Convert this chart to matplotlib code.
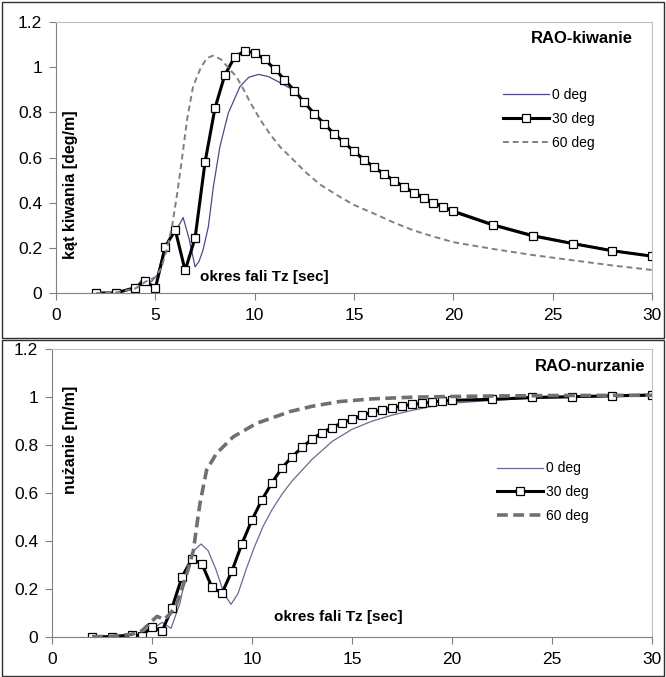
import numpy as np
import matplotlib
matplotlib.use('Agg')
import matplotlib.pyplot as plt
from matplotlib.patches import Rectangle

plt.rcParams['font.family'] = ['Liberation Sans', 'DejaVu Sans']

# --- RAO-kiwanie (pitch) ---
x_30 = [2, 3, 4, 4.5, 5, 5.5, 6, 6.5, 7, 7.5, 8, 8.5, 9, 9.5, 10, 10.5, 11, 11.5, 12, 12.5,
        13, 13.5, 14, 14.5, 15, 15.5, 16, 16.5, 17, 17.5, 18, 18.5, 19, 19.5, 20, 22, 24, 26, 28, 30]
pitch_30 = [0, 0, 0.024, 0.055, 0.02, 0.205, 0.28, 0.10, 0.243, 0.578, 0.818, 0.966, 1.046, 1.071,
            1.064, 1.034, 0.993, 0.945, 0.896, 0.844, 0.794, 0.750, 0.704, 0.667, 0.627, 0.590,
            0.557, 0.527, 0.498, 0.471, 0.444, 0.421, 0.400, 0.379, 0.361, 0.301, 0.253, 0.219,
            0.187, 0.163]

x_p0 = [2, 3, 4, 4.4, 4.8, 5.1, 5.4, 5.7, 6.0, 6.4, 6.7, 7.0, 7.2, 7.4, 7.67, 7.92, 8.25, 8.67,
        9.26, 9.7, 10.2, 10.7, 11.2, 11.94, 12.5, 13, 14, 15, 16, 17, 18, 19, 20, 22, 24, 26, 28, 30]
pitch_0 = [0, 0, 0.02, 0.07, 0.05, 0.08, 0.18, 0.23, 0.27, 0.334, 0.24, 0.116, 0.14, 0.19, 0.294,
           0.47, 0.648, 0.796, 0.914, 0.955, 0.968, 0.958, 0.935, 0.899, 0.847, 0.798, 0.708,
           0.632, 0.562, 0.503, 0.45, 0.405, 0.367, 0.306, 0.258, 0.222, 0.19, 0.165]

x_p60 = [2, 3, 4, 4.5, 5, 5.3, 5.6, 5.85, 6.1, 6.35, 6.6, 6.9, 7.3, 7.6, 7.9, 8.3, 8.7, 9.1, 9.45,
         9.8, 10.3, 10.8, 11.3, 12, 12.6, 13.3, 14.3, 15, 16, 17, 18, 19, 20, 22, 24, 26, 28, 30]
pitch_60 = [0, 0.002, 0.02, 0.05, 0.07, 0.11, 0.2, 0.3, 0.44, 0.6, 0.77, 0.915, 1.0, 1.04, 1.051,
            1.035, 0.995, 0.955, 0.9, 0.84, 0.765, 0.7, 0.645, 0.585, 0.532, 0.48, 0.425, 0.39,
            0.352, 0.312, 0.277, 0.25, 0.225, 0.195, 0.168, 0.145, 0.122, 0.102]

# --- RAO-nurzanie (heave) ---
heave_30 = [0, 0, 0.008, 0.004, 0.042, 0.022, 0.12, 0.25, 0.325, 0.303, 0.206, 0.182, 0.275, 0.389,
            0.488, 0.572, 0.643, 0.705, 0.751, 0.79, 0.825, 0.852, 0.873, 0.893, 0.908, 0.924,
            0.938, 0.946, 0.956, 0.963, 0.97, 0.974, 0.98, 0.984, 0.987, 0.991, 0.999, 1.002,
            1.006, 1.009]

x_h0 = [2, 3, 4, 4.5, 5, 5.5, 5.95, 6.4, 6.75, 7.1, 7.45, 7.8, 8.2, 8.6, 8.95, 9.3, 9.7, 10.1,
        10.55, 11, 11.5, 12, 12.5, 13, 14, 15, 16, 17, 18, 19, 20, 22, 24, 26, 28, 30]
heave_0 = [0, 0, 0.005, 0.01, 0.03, 0.06, 0.035, 0.14, 0.28, 0.36, 0.387, 0.36, 0.28, 0.18, 0.135,
           0.18, 0.28, 0.37, 0.46, 0.53, 0.595, 0.65, 0.695, 0.74, 0.815, 0.866, 0.9, 0.925,
           0.945, 0.962, 0.975, 0.987, 0.995, 0.999, 1.002, 1.005]

x_h60 = [2, 3, 4, 4.5, 5, 5.25, 5.6, 5.9, 6.2, 6.5, 6.8, 7.07, 7.25, 7.4, 7.73, 8.23, 9.07, 10.23,
         11.9, 13, 14.4, 16, 18, 20, 22, 25, 30]
heave_60 = [0, 0.002, 0.01, 0.025, 0.065, 0.085, 0.072, 0.095, 0.13, 0.2, 0.28, 0.36, 0.47, 0.557,
            0.696, 0.766, 0.835, 0.891, 0.94, 0.962, 0.982, 0.993, 1.0, 1.003, 1.005, 1.007, 1.008]

labels = ['0 deg', '30 deg', '60 deg']
xticks = [0, 5, 10, 15, 20, 25, 30]
yticks = [0, 0.2, 0.4, 0.6, 0.8, 1, 1.2]
ytick_labels = ['0', '0.2', '0.4', '0.6', '0.8', '1', '1.2']

fig = plt.figure(figsize=(6.66, 6.77), dpi=100)
fig.patches.append(Rectangle((2 / 666, 1 - 338 / 677), 662 / 666, 336 / 677, transform=fig.transFigure,
                             fill=False, edgecolor='#303030', lw=1))
fig.patches.append(Rectangle((2 / 666, 1 / 677), 662 / 666, 336 / 677, transform=fig.transFigure,
                             fill=False, edgecolor='#303030', lw=1))

ax1 = fig.add_axes([56 / 666, 384 / 677, 596 / 666, 271 / 677])
ax2 = fig.add_axes([52 / 666, 40.3 / 677, 600 / 666, 287.4 / 677])


def style(ax):
    ax.set_xlim(0, 30)
    ax.set_ylim(0, 1.2)
    ax.set_xticks(xticks)
    ax.set_yticks(yticks)
    ax.set_yticklabels(ytick_labels)
    for s in ['top', 'right']:
        ax.spines[s].set_color('#c0c0c0')
    for s in ['left', 'bottom']:
        ax.spines[s].set_color('#808080')
    ax.tick_params(axis='both', direction='out', length=5, color='#808080', labelsize=12.5)
    ax.tick_params(axis='x', pad=6)
    ax.tick_params(axis='y', pad=5)


# top chart
style(ax1)
ax1.plot(x_p0, pitch_0, color='#4a4a8a', lw=0.9, label=labels[0])
ax1.plot(x_30, pitch_30, color='black', lw=2.2, marker='s', ms=5.5, mfc='white', mec='black',
         mew=0.9, label=labels[1])
ax1.plot(x_p60, pitch_60, color='#808080', lw=1.4, dashes=(3, 2), label=labels[2])
ax1.text(29.04, 1.125, 'RAO-kiwanie', ha='right', va='center', fontsize=12, fontweight='bold')
ax1.text(10.47, 0.072, 'okres fali Tz [sec]', ha='center', va='center', fontsize=11, fontweight='bold')
ax1.text(0.75, 0.478, 'kąt kiwania [deg/m]', rotation=90, ha='center', va='center',
         fontsize=11.5, fontweight='bold')
ax1.legend(loc='center left', bbox_to_anchor=(0.75, 0.642), frameon=False, fontsize=10,
           handlelength=3.3, handletextpad=0.2, labelspacing=0.7, borderpad=0, borderaxespad=0)

# bottom chart
style(ax2)
ax2.plot(x_h0, heave_0, color='#6a6a90', lw=0.9, label=labels[0])
ax2.plot(x_30, heave_30, color='black', lw=2.2, marker='s', ms=5.5, mfc='white', mec='black',
         mew=0.9, label=labels[1])
ax2.plot(x_h60, heave_60, color='#707070', lw=2.6, dashes=(3, 1.5), label=labels[2])
ax2.text(29.65, 1.13, 'RAO-nurzanie', ha='right', va='center', fontsize=12, fontweight='bold')
ax2.text(14.3, 0.083, 'okres fali Tz [sec]', ha='center', va='center', fontsize=11, fontweight='bold')
ax2.text(0.9, 0.82, 'nużanie [m/m]', rotation=90, ha='center', va='center',
         fontsize=11.5, fontweight='bold')
ax2.legend(loc='center left', bbox_to_anchor=(0.742, 0.503), frameon=False, fontsize=10,
           handlelength=3.3, handletextpad=0.2, labelspacing=0.7, borderpad=0, borderaxespad=0)

fig.savefig('out.png', dpi=100)
